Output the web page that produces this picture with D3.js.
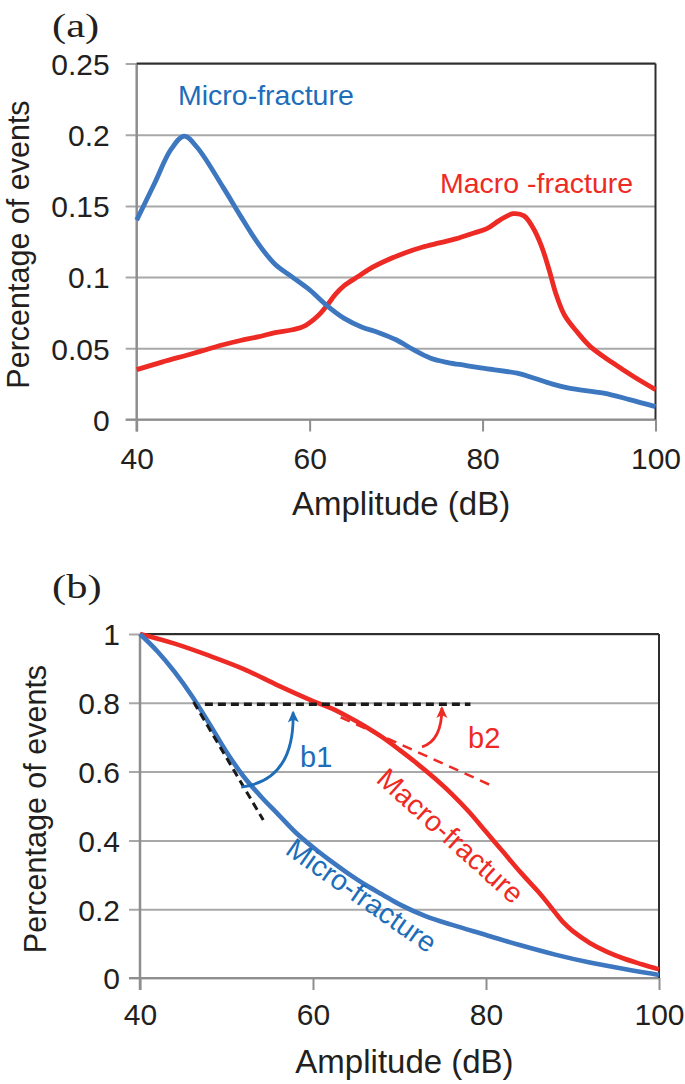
<!DOCTYPE html>
<html><head><meta charset="utf-8">
<script src="https://cdn.jsdelivr.net/npm/d3@7"></script>
<style>
html,body{margin:0;padding:0;background:#fff;}
svg{display:block;}
text{font-family:"Liberation Sans",Arial,Helvetica,sans-serif;}
</style></head>
<body>
<svg id="chart" width="685" height="1084"></svg>
<script>
// ---------- data ----------
const xTicks = [40, 60, 80, 100];
const xTickLabels = ["40", "60", "80", "100"];
const aYTicks = [0, 0.05, 0.1, 0.15, 0.2, 0.25];
const aYLabels = ["0", "0.05", "0.1", "0.15", "0.2", "0.25"];
const bYTicks = [0, 0.2, 0.4, 0.6, 0.8, 1];
const bYLabels = ["0", "0.2", "0.4", "0.6", "0.8", "1"];

// panel (a): distribution
const aMicroAmp = [40, 42, 44, 45.5, 47, 50, 52, 54, 56, 58, 60, 62, 64, 66, 68, 70, 72, 74, 76, 78, 80, 84, 86, 88, 90, 94, 97, 100];
const aMicroVal = [0.140, 0.165, 0.190, 0.199, 0.191, 0.163, 0.143, 0.124, 0.109, 0.100, 0.091, 0.080, 0.071, 0.065, 0.061, 0.056, 0.049, 0.043, 0.040, 0.038, 0.036, 0.0325, 0.029, 0.025, 0.022, 0.0185, 0.014, 0.009];
const aMacroAmp = [40, 43, 46, 48, 50, 52, 54, 56, 58, 59.5, 61, 62, 63, 64, 65.5, 67, 69, 71, 73, 75, 77, 79, 80.5, 82, 83.5, 84.8, 85.8, 86.8, 87.7, 88.5, 89.5, 91, 92.5, 95, 97.5, 100];
const aMacroVal = [0.035, 0.0405, 0.0455, 0.049, 0.0525, 0.0555, 0.058, 0.061, 0.063, 0.066, 0.073, 0.080, 0.088, 0.094, 0.100, 0.106, 0.112, 0.117, 0.121, 0.124, 0.127, 0.131, 0.134, 0.140, 0.1445, 0.143, 0.135, 0.122, 0.105, 0.088, 0.073, 0.061, 0.051, 0.040, 0.030, 0.021];

// panel (b): cumulative
const bMicroAmp = [40, 42, 44, 46, 48, 50, 52, 54, 56, 58, 60, 62, 64, 66, 68, 70, 73, 76, 80, 84, 88, 92, 96, 100];
const bMicroVal = [1.0, 0.95, 0.89, 0.82, 0.74, 0.657, 0.585, 0.527, 0.475, 0.423, 0.38, 0.341, 0.305, 0.272, 0.243, 0.214, 0.18, 0.155, 0.125, 0.095, 0.068, 0.045, 0.026, 0.009];
const bMacroAmp = [40, 44, 48, 52, 56, 60, 62, 64, 66, 68, 70, 72, 74, 76, 78, 80, 82, 84, 86, 87, 88, 89, 90, 92, 94, 96, 98, 100];
const bMacroVal = [1.0, 0.972, 0.937, 0.898, 0.85, 0.805, 0.785, 0.76, 0.732, 0.700, 0.663, 0.624, 0.582, 0.536, 0.484, 0.425, 0.366, 0.307, 0.252, 0.222, 0.19, 0.16, 0.137, 0.102, 0.076, 0.056, 0.040, 0.025];

// annotation geometry (data units)
const b1Dash = [[46.2, 0.802], [54.25, 0.459]];
const hDash = [[47.5, 0.796], [78.2, 0.796]];
const b2Dash = [[63.2, 0.758], [80.5, 0.561]];
const b1Arrow = [[51.7, 0.555], [57.9, 0.575], [57.7, 0.772]];
const b2Arrow = [[72.6, 0.672], [74.9, 0.69], [74.9, 0.785]];

// ---------- style ----------
const BLUE = "#3d77c0", BLUE_TXT = "#1d6db9", RED = "#ee2a24";
const GRID = "#a8a8a8", AXIS = "#8e8e8e", FRAME = "#2e2e2e", TXT = "#231f20";

const svg = d3.select("#chart");
svg.append("rect").attr("width", 685).attr("height", 1084).attr("fill", "#fff");

const defs = svg.append("defs");
function marker(id, color) {
  defs.append("marker").attr("id", id).attr("viewBox", "0 -6 12 12")
    .attr("refX", 10).attr("refY", 0).attr("markerWidth", 12).attr("markerHeight", 12)
    .attr("markerUnits", "userSpaceOnUse").attr("orient", "auto")
    .append("path").attr("d", "M0,-5.5L12,0L0,5.5L3,0Z").attr("fill", color);
}
marker("arrBlue", "#1d6db9");
marker("arrRed", RED);

function panel(cfg) {
  const g = svg.append("g");
  const x = d3.scaleLinear().domain([40, 100]).range([cfg.x0, cfg.x1]);
  const y = d3.scaleLinear().domain([0, cfg.yMax]).range([cfg.y0, cfg.y1]);
  const w = cfg.x1 - cfg.x0;

  // y axis with gridlines
  const ya = g.append("g").attr("transform", `translate(${cfg.x0},0)`)
    .call(d3.axisLeft(y).tickValues(cfg.yTicks).tickFormat((d, i) => cfg.yLabels[i])
      .tickSize(-w).tickPadding(cfg.yPad));
  ya.select(".domain").remove();
  ya.selectAll(".tick line").attr("x1", -11).attr("stroke", GRID).attr("stroke-width", 2);
  ya.selectAll(".tick text").attr("fill", TXT).style("font-size", "30px").attr("dy", "0.36em");

  // x axis
  const xa = g.append("g").attr("transform", `translate(0,${cfg.y0})`)
    .call(d3.axisBottom(x).tickValues(xTicks).tickFormat((d, i) => xTickLabels[i])
      .tickSize(12).tickPadding(cfg.xPad));
  xa.select(".domain").remove();
  xa.selectAll(".tick line").attr("stroke", AXIS).attr("stroke-width", 2);
  xa.selectAll(".tick text").attr("fill", TXT).style("font-size", "30px");

  // baseline, left axis, frame
  g.append("line").attr("x1", cfg.x0 - 11).attr("x2", cfg.x1).attr("y1", cfg.y0).attr("y2", cfg.y0)
    .attr("stroke", AXIS).attr("stroke-width", 2.2);
  g.append("line").attr("x1", cfg.x0).attr("x2", cfg.x0).attr("y1", cfg.y1).attr("y2", cfg.y0 + 12)
    .attr("stroke", AXIS).attr("stroke-width", 2.5);
  g.append("line").attr("x1", cfg.x0).attr("x2", cfg.x1).attr("y1", cfg.y1).attr("y2", cfg.y1)
    .attr("stroke", FRAME).attr("stroke-width", 2);
  g.append("line").attr("x1", cfg.x1).attr("x2", cfg.x1).attr("y1", cfg.y1).attr("y2", cfg.y0)
    .attr("stroke", FRAME).attr("stroke-width", 2);

  // titles
  g.append("text").attr("transform", `translate(${cfg.yTitleX},${(cfg.y0 + cfg.y1) / 2 + 3}) rotate(-90)`)
    .attr("text-anchor", "middle").attr("fill", TXT).style("font-size", "30.5px").text("Percentage of events");
  g.append("text").attr("x", (cfg.x0 + cfg.x1) / 2 + 5).attr("y", cfg.xTitleY)
    .attr("text-anchor", "middle").attr("fill", TXT).style("font-size", "33px").text("Amplitude (dB)");
  g.append("text").attr("transform", `translate(${cfg.lblX},${cfg.lblY}) scale(1.25,1)`)
    .style("font-family", "'Liberation Serif','Times New Roman',serif").style("font-size", "34px")
    .attr("fill", TXT).text(cfg.lbl);

  const line = d3.line().x(d => x(d[0])).y(d => y(d[1])).curve(d3.curveCatmullRom.alpha(0.5));
  cfg.series.forEach(s => {
    g.append("path").datum(d3.zip(s.amp, s.val)).attr("d", line)
      .attr("fill", "none").attr("stroke", s.color).attr("stroke-width", cfg.lw)
      .attr("stroke-linejoin", "round");
  });
  return { g, x, y };
}

// ---------- panel (a) ----------
const A = panel({
  x0: 136.7, x1: 655.5, y0: 419.5, y1: 63.5, yMax: 0.25,
  yTicks: aYTicks, yLabels: aYLabels, yPad: 27, xPad: 16,
  yTitleX: 29, xTitleY: 515, lbl: "(a)", lblX: 52, lblY: 37, lw: 4.8,
  series: [
    { amp: aMacroAmp, val: aMacroVal, color: RED },
    { amp: aMicroAmp, val: aMicroVal, color: BLUE }
  ]
});
A.g.append("text").attr("x", 178).attr("y", 105).attr("fill", BLUE_TXT)
  .style("font-size", "28.5px").text("Micro-fracture");
A.g.append("text").attr("x", 440).attr("y", 193).attr("fill", RED)
  .style("font-size", "28.5px").text("Macro -fracture");

// ---------- panel (b) ----------
const B = panel({
  x0: 140, x1: 659, y0: 978, y1: 634, yMax: 1,
  yTicks: bYTicks, yLabels: bYLabels, yPad: 20, xPad: 14,
  yTitleX: 46, xTitleY: 1073, lbl: "(b)", lblX: 52, lblY: 598, lw: 4.6,
  series: [
    { amp: bMacroAmp, val: bMacroVal, color: RED },
    { amp: bMicroAmp, val: bMicroVal, color: BLUE }
  ]
});
const sl = d3.line().x(d => B.x(d[0])).y(d => B.y(d[1]));
B.g.append("path").datum(hDash).attr("d", sl).attr("stroke", "#1a1a1a").attr("stroke-width", 3.5)
  .attr("stroke-dasharray", "8,5").attr("fill", "none");
B.g.append("path").datum(b1Dash).attr("d", sl).attr("stroke", "#1a1a1a").attr("stroke-width", 3)
  .attr("stroke-dasharray", "8,5").attr("fill", "none");
B.g.append("path").datum(b2Dash).attr("d", sl).attr("stroke", RED).attr("stroke-width", 2.5)
  .attr("stroke-dasharray", "10,7").attr("fill", "none");

function qArrow(pts, color, mk) {
  const p = d3.path();
  p.moveTo(B.x(pts[0][0]), B.y(pts[0][1]));
  p.quadraticCurveTo(B.x(pts[1][0]), B.y(pts[1][1]), B.x(pts[2][0]), B.y(pts[2][1]));
  B.g.append("path").attr("d", p.toString()).attr("fill", "none").attr("stroke", color)
    .attr("stroke-width", 2.8).attr("marker-end", `url(#${mk})`);
}
qArrow(b1Arrow, "#1d6db9", "arrBlue");
qArrow(b2Arrow, RED, "arrRed");

B.g.append("text").attr("x", 300).attr("y", 767).attr("fill", BLUE_TXT).style("font-size", "29px").text("b1");
B.g.append("text").attr("x", 468).attr("y", 748).attr("fill", RED).style("font-size", "29px").text("b2");
B.g.append("text").attr("transform", "translate(284,853) rotate(35)").attr("fill", BLUE_TXT)
  .style("font-size", "28.5px").text("Micro-fracture");
B.g.append("text").attr("transform", "translate(375,781) rotate(42)").attr("fill", RED)
  .style("font-size", "28.5px").text("Macro-fracture");
</script>
</body></html>
